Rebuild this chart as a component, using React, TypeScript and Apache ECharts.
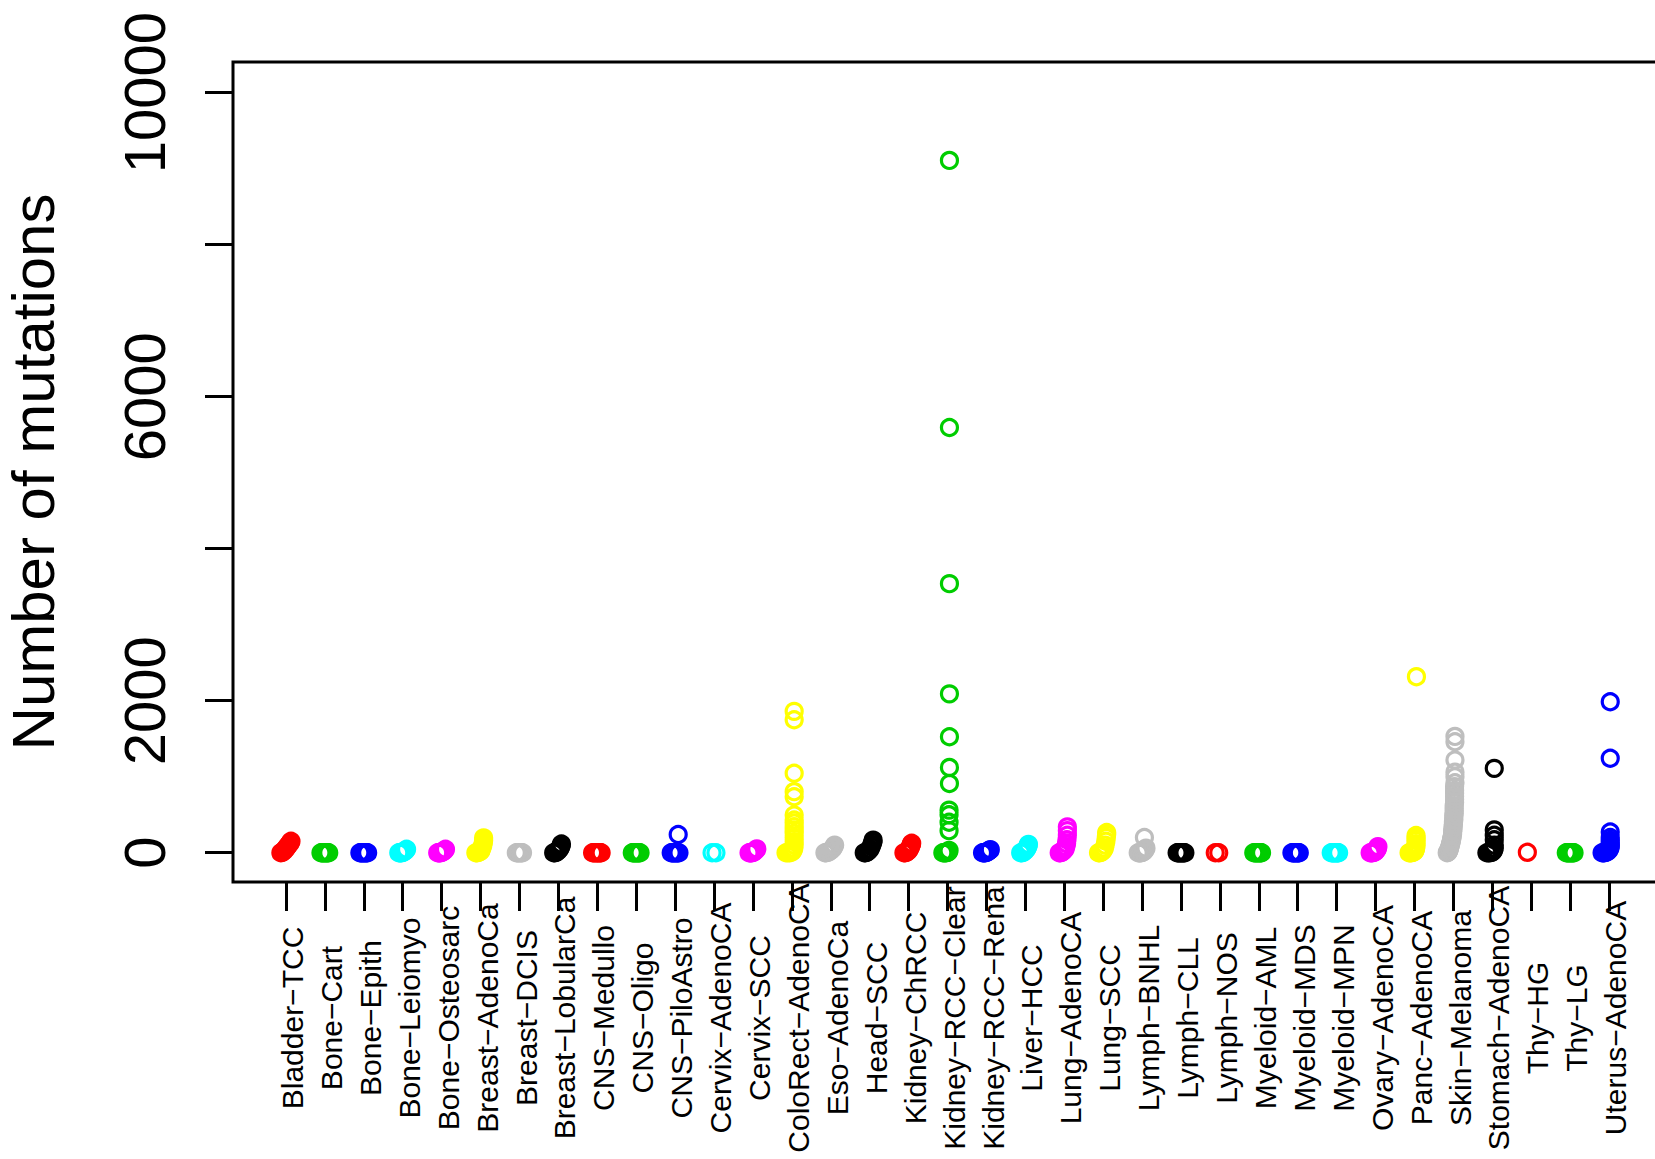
import React, { useEffect, useRef } from 'react';
import * as echarts from 'echarts';

const categories = [
  'Bladder−TCC', 'Bone−Cart', 'Bone−Epith', 'Bone−Leiomyo', 'Bone−Osteosarc',
  'Breast−AdenoCa', 'Breast−DCIS', 'Breast−LobularCa', 'CNS−Medullo', 'CNS−Oligo',
  'CNS−PiloAstro', 'Cervix−AdenoCA', 'Cervix−SCC', 'ColoRect−AdenoCA', 'Eso−AdenoCa',
  'Head−SCC', 'Kidney−ChRCC', 'Kidney−RCC−Clear', 'Kidney−RCC−Rena', 'Liver−HCC',
  'Lung−AdenoCA', 'Lung−SCC', 'Lymph−BNHL', 'Lymph−CLL', 'Lymph−NOS',
  'Myeloid−AML', 'Myeloid−MDS', 'Myeloid−MPN', 'Ovary−AdenoCA', 'Panc−AdenoCA',
  'Skin−Melanoma', 'Stomach−AdenoCA', 'Thy−HG', 'Thy−LG', 'Uterus−AdenoCA',
];

// R default palette order (starting at red)
const palette = ['#FF0000', '#00CD00', '#0000FF', '#00FFFF', '#FF00FF', '#FFFF00', '#BEBEBE', '#000000'];

const yTickValues = [0, 2000, 4000, 6000, 8000, 10000];
const yLabelValues = [0, 2000, 6000, 10000];

// Number of mutations per sample, by category
const counts: number[][] = [
  [0, 5, 15, 30, 50, 70, 90, 110, 130, 150],
  [0, 0, 0, 0, 0, 0, 0, 0, 0],
  [0, 0, 0, 0, 0, 0, 0, 0, 0],
  [0, 0, 0, 0, 5, 10, 20, 30, 45],
  [0, 0, 0, 0, 5, 10, 20, 30, 45],
  [0, 0, 5, 10, 20, 40, 70, 100, 130, 160, 195],
  [0, 0, 0, 0, 0, 0, 0],
  [0, 0, 5, 15, 30, 50, 70, 90, 115],
  [0, 0, 0, 0, 0, 0, 0, 0, 0],
  [0, 0, 0, 0, 0, 0, 0, 0, 0],
  [0, 0, 0, 0, 0, 0, 0, 0, 0, 240],
  [0, 0],
  [0, 0, 0, 0, 5, 10, 20, 35, 50],
  [0, 0, 0, 10, 30, 60, 100, 145, 200, 255, 300, 342, 390, 430, 496, 737, 803, 1045, 1750, 1860],
  [0, 0, 5, 15, 30, 50, 70, 100],
  [0, 0, 5, 15, 30, 50, 80, 110, 140, 165],
  [0, 0, 5, 15, 30, 50, 70, 90, 110, 125],
  [0, 0, 0, 0, 5, 10, 30, 290, 400, 500, 560, 910, 1122, 1526, 2090, 3540, 5595, 9109],
  [0, 0, 0, 0, 5, 10, 20, 30, 40],
  [0, 0, 5, 15, 30, 50, 70, 90, 110],
  [0, 0, 5, 15, 30, 50, 80, 120, 170, 230, 290, 340],
  [0, 0, 5, 15, 30, 60, 100, 150, 200, 240, 265],
  [0, 0, 0, 0, 5, 10, 20, 40, 60, 200],
  [0, 0, 0, 0, 0, 0, 0, 0, 0],
  [0, 0],
  [0, 0, 0, 0, 0, 0, 0, 0, 0],
  [0, 0, 0, 0, 0, 0, 0, 0, 0],
  [0, 0, 0, 0, 0, 0, 0, 0, 0],
  [0, 0, 0, 5, 10, 20, 35, 50, 65, 80],
  [0, 0, 0, 5, 10, 20, 40, 60, 90, 120, 160, 190, 226, 2316],
  [0, 5, 10, 20, 30, 45, 60, 80, 100, 120, 140, 165, 190, 220, 250, 280, 310, 340, 370, 400, 430, 460, 490, 520, 550, 580, 620, 660, 700, 740, 780, 820, 870, 920, 1000, 1060, 1220, 1460, 1530],
  [0, 0, 0, 5, 15, 30, 60, 100, 170, 230, 300, 1110],
  [5],
  [0, 0, 0, 0, 0, 0, 0, 0, 0],
  [0, 0, 0, 5, 10, 20, 40, 60, 80, 100, 130, 160, 200, 272, 1242, 1987],
];

// Horizontal jitter of each point (in category units)
const jitter: number[][] = [
  [-0.13, -0.1, -0.07, -0.04, -0.01, 0.02, 0.05, 0.08, 0.11, 0.13],
  [-0.1, -0.075, -0.05, -0.025, 0, 0.025, 0.05, 0.075, 0.1],
  [-0.1, -0.075, -0.05, -0.025, 0, 0.025, 0.05, 0.075, 0.1],
  [-0.1, -0.075, -0.05, -0.025, 0, 0.025, 0.05, 0.075, 0.1],
  [-0.1, -0.075, -0.05, -0.025, 0, 0.025, 0.05, 0.075, 0.1],
  [-0.12, -0.09, -0.06, -0.03, 0, 0.02, 0.04, 0.06, 0.07, 0.08, 0.08],
  [-0.08, -0.05, -0.03, 0, 0.03, 0.05, 0.08],
  [-0.12, -0.09, -0.06, -0.03, 0, 0.03, 0.05, 0.07, 0.08],
  [-0.12, -0.09, -0.06, -0.03, 0, 0.02, 0.05, 0.08, 0.1],
  [-0.1, -0.075, -0.05, -0.025, 0, 0.025, 0.05, 0.075, 0.1],
  [-0.1, -0.075, -0.05, -0.025, 0, 0.025, 0.05, 0.075, 0.1, 0.08],
  [-0.05, 0.05],
  [-0.1, -0.075, -0.05, -0.025, 0, 0.025, 0.05, 0.075, 0.1],
  [-0.15, -0.1, -0.05, 0, 0.03, 0.05, 0.06, 0.06, 0.06, 0.06, 0.06, 0.06, 0.06, 0.06, 0.06, 0.06, 0.06, 0.06, 0.06, 0.06],
  [-0.15, -0.12, -0.08, -0.04, 0, 0.04, 0.07, 0.1],
  [-0.14, -0.11, -0.08, -0.05, -0.02, 0.01, 0.04, 0.06, 0.08, 0.09],
  [-0.12, -0.09, -0.06, -0.03, 0, 0.02, 0.04, 0.06, 0.07, 0.08],
  [-0.12, -0.09, -0.06, -0.03, 0, 0.02, 0.04, 0.04, 0.04, 0.04, 0.04, 0.05, 0.05, 0.05, 0.05, 0.05, 0.05, 0.05],
  [-0.1, -0.075, -0.05, -0.025, 0, 0.025, 0.05, 0.075, 0.1],
  [-0.12, -0.09, -0.06, -0.03, 0, 0.03, 0.05, 0.07, 0.08],
  [-0.13, -0.1, -0.07, -0.04, -0.01, 0.02, 0.04, 0.06, 0.07, 0.08, 0.08, 0.08],
  [-0.12, -0.09, -0.06, -0.03, 0, 0.03, 0.05, 0.07, 0.08, 0.09, 0.09],
  [-0.1, -0.075, -0.05, -0.025, 0, 0.025, 0.05, 0.075, 0.1, 0.06],
  [-0.1, -0.075, -0.05, -0.025, 0, 0.025, 0.05, 0.075, 0.1],
  [-0.12, -0.03],
  [-0.13, -0.1, -0.075, -0.05, -0.025, 0, 0.025, 0.05, 0.07],
  [-0.15, -0.12, -0.1, -0.075, -0.05, -0.025, 0, 0.02, 0.04],
  [-0.14, -0.11, -0.09, -0.065, -0.04, -0.015, 0.01, 0.03, 0.05],
  [-0.14, -0.11, -0.08, -0.05, -0.02, 0, 0.02, 0.04, 0.05, 0.06],
  [-0.14, -0.11, -0.08, -0.05, -0.02, 0, 0.02, 0.03, 0.04, 0.04, 0.04, 0.04, 0.04, 0.05],
  [-0.16, -0.15, -0.14, -0.13, -0.12, -0.11, -0.1, -0.09, -0.08, -0.07, -0.06, -0.05, -0.04, -0.03, -0.02, -0.02, -0.01, -0.01, 0, 0, 0.01, 0.01, 0.01, 0.02, 0.02, 0.02, 0.02, 0.03, 0.03, 0.03, 0.03, 0.03, 0.03, 0.04, 0.04, 0.04, 0.04, 0.04, 0.04],
  [-0.14, -0.1, -0.06, -0.02, 0.01, 0.03, 0.05, 0.05, 0.05, 0.05, 0.05, 0.05],
  [-0.1],
  [-0.1, -0.075, -0.05, -0.025, 0, 0.025, 0.05, 0.075, 0.1],
  [-0.18, -0.15, -0.12, -0.09, -0.06, -0.03, 0, 0.02, 0.03, 0.03, 0.03, 0.03, 0.03, 0.03, 0.03, 0.03],
];

// R places each rotated label's glyphs slightly to the right of its tick
const LABEL_SHIFT = 0.17;

const FONT = '"Liberation Sans", Arial, Helvetica, sans-serif';

export default function App() {
  const ref = useRef<HTMLDivElement>(null);

  useEffect(() => {
    if (!ref.current) return;
    const chart = echarts.init(ref.current, null, { renderer: 'svg' });
    const catTicks = categories.map((_, i) => i + 1);
    const catLabelPos = categories.map((_, i) => i + 1 + LABEL_SHIFT);

    const series = categories.map((name, i) => ({
      type: 'scatter',
      name,
      symbol: 'circle',
      symbolSize: 16,
      clip: false,
      silent: true,
      itemStyle: {
        color: 'rgba(0,0,0,0)',
        borderColor: palette[i % palette.length],
        borderWidth: 3.2,
        opacity: 1,
      },
      data: counts[i].map((v, j) => [i + 1 + jitter[i][j], v]),
    }));

    chart.setOption({
      animation: false,
      backgroundColor: '#ffffff',
      grid: {
        left: 233,
        top: 62,
        right: 3,
        bottom: 277,
        show: true,
        borderColor: '#000',
        borderWidth: 3,
        backgroundColor: 'transparent',
        containLabel: false,
        outerBoundsMode: 'none',
      },
      xAxis: {
        type: 'value',
        min: -0.36,
        max: 36.36,
        splitLine: { show: false },
        axisLine: { show: false, onZero: false },
        axisTick: {
          show: true,
          customValues: catTicks,
          length: 29,
          lineStyle: { color: '#000', width: 3 },
        },
        axisLabel: {
          customValues: catLabelPos,
          formatter: (v: number) => categories[Math.round(v - LABEL_SHIFT) - 1] ?? '',
          rotate: 90,
          align: 'center',
          verticalAlign: 'middle',
          margin: 136,
          padding: [26, 0, 0, 0],
          fontSize: 30,
          color: '#000',
          fontFamily: FONT,
        },
      },
      yAxis: {
        type: 'value',
        min: -385.5,
        max: 10404,
        splitLine: { show: false },
        axisLine: { show: false, onZero: false },
        axisTick: {
          show: true,
          customValues: yTickValues,
          length: 28,
          lineStyle: { color: '#000', width: 3 },
        },
        axisLabel: {
          customValues: yLabelValues,
          formatter: (v: number) => String(v),
          rotate: 90,
          align: 'center',
          verticalAlign: 'middle',
          margin: 89,
          fontSize: 58,
          color: '#000',
          fontFamily: FONT,
        },
        name: 'Number of mutations',
        nameLocation: 'middle',
        nameRotate: 90,
        nameGap: 200,
        nameTextStyle: {
          fontSize: 60,
          lineHeight: 50,
          color: '#000',
          fontFamily: FONT,
          align: 'center',
          verticalAlign: 'middle',
        },
      },
      series,
    });

    return () => chart.dispose();
  }, []);

  return (
    <div
      style={{ position: 'fixed', left: 0, top: 0, width: 1655, height: 1159, overflow: 'hidden', background: '#fff' }}
    >
      <div ref={ref} style={{ width: 1665, height: 1159 }} />
    </div>
  );
}
